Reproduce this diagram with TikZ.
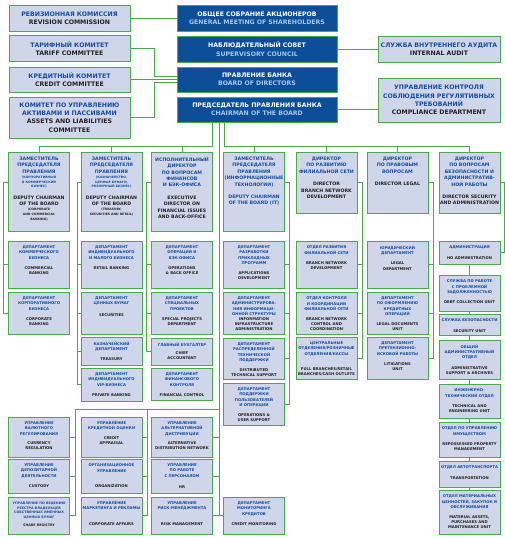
\documentclass[tikz,border=0pt]{standalone}
\usepackage{fontspec}
\setmainfont{DejaVu Sans}
\usepackage{tikz}
\usetikzlibrary{positioning}
\definecolor{lblue}{RGB}{207,214,234}
\definecolor{dblue}{RGB}{12,78,152}
\definecolor{lgreen}{RGB}{72,170,72}
\definecolor{rublue}{RGB}{22,78,158}
\definecolor{enblue}{RGB}{168,198,235}
\definecolor{entext}{RGB}{35,35,35}

\newcommand\ru[1]{{\color{rublue}#1\par}}
\newcommand\lb[1]{{\color{enblue}#1}}
\newcommand\sm[1]{{\fontsize{3.1}{4.9}\selectfont#1\par}}
\newcommand\cell[4][5pt]{\parbox[c][#2][t]{59pt}{\centering\hyphenpenalty=10000\vspace*{5pt}\ru{#3}\vspace{#1}#4}}

\begin{document}
\begin{tikzpicture}[x=1pt, y=-1pt,
  lbox/.style={draw=lgreen, fill=lblue, line width=0.9pt, inner sep=0pt, outer sep=0pt, text=entext},
  dbox/.style={lbox, fill=dblue, text=white},
  topf/.style={align=center, font=\fontsize{6.2}{8.4}\selectfont\bfseries},
  head/.style={lbox, anchor=north, minimum width=61pt, font=\fontsize{4.7}{6.4}\selectfont\bfseries},
  dept/.style={lbox, anchor=north, minimum width=61pt, font=\fontsize{3.8}{5.2}\selectfont\bfseries},
  link/.style={draw=lgreen, line width=0.9pt}
]
\fill[white] (0,0) rectangle (505,539);
\useasboundingbox (0,0) rectangle (505,539);

% committees and governing bodies
\node[lbox, topf, text width=121pt, minimum height=26pt] (rev) at (69.5,18) {\ru{РЕВИЗИОННАЯ КОМИССИЯ}REVISION COMMISSION};
\node[lbox, topf, text width=121pt, minimum height=26pt] (tariff) at (69.5,48.5) {\ru{ТАРИФНЫЙ КОМИТЕТ}TARIFF COMMITTEE};
\node[lbox, topf, text width=121pt, minimum height=25pt] (credit) at (69.5,79.5) {\ru{КРЕДИТНЫЙ КОМИТЕТ}CREDIT COMMITTEE};
\node[lbox, topf, text width=121pt, minimum height=41pt] (alm) at (69.5,117.5) {\ru{КОМИТЕТ ПО УПРАВЛЕНИЮ\\АКТИВАМИ И ПАССИВАМИ}ASSETS AND LIABILITIES\\COMMITTEE};

\node[dbox, topf, text width=160pt, minimum height=26pt] (gms) at (257,18) {ОБЩЕЕ СОБРАНИЕ АКЦИОНЕРОВ\\\lb{GENERAL MEETING OF SHAREHOLDERS}};
\node[dbox, topf, text width=160pt, minimum height=26pt] (sup) at (257,49) {НАБЛЮДАТЕЛЬНЫЙ СОВЕТ\\\lb{SUPERVISORY COUNCIL}};
\node[dbox, topf, text width=160pt, minimum height=25pt] (board) at (257,79.5) {ПРАВЛЕНИЕ БАНКА\\\lb{BOARD OF DIRECTORS}};
\node[dbox, topf, text width=160pt, minimum height=25pt] (chair) at (257,109.5) {ПРЕДСЕДАТЕЛЬ ПРАВЛЕНИЯ БАНКА\\\lb{CHAIRMAN OF THE BOARD}};

\node[lbox, topf, text width=122pt, minimum height=26pt] (audit) at (439,49) {\ru{СЛУЖБА ВНУТРЕННЕГО АУДИТА}INTERNAL AUDIT};
\node[lbox, topf, text width=122pt, minimum height=44pt] (compl) at (439,100) {\ru{УПРАВЛЕНИЕ КОНТРОЛЯ\\СОБЛЮДЕНИЯ РЕГУЛЯТИВНЫХ\\ТРЕБОВАНИЙ}COMPLIANCE DEPARTMENT};

% heads of the divisions
\node[head] (hcorp) at (39,152) {\cell{79pt}{ЗАМЕСТИТЕЛЬ\\ПРЕДСЕДАТЕЛЯ\\ПРАВЛЕНИЯ\par\sm{(КОРПОРАТИВНЫЙ\\И КОММЕРЧЕСКИЙ\\БИЗНЕС)}}{DEPUTY CHAIRMAN\\OF THE BOARD\par\sm{(CORPORATE\\AND COMMERCIAL\\BANKING)}}};
\node[head] (hretail) at (111.5,152) {\cell{79pt}{ЗАМЕСТИТЕЛЬ\\ПРЕДСЕДАТЕЛЯ\\ПРАВЛЕНИЯ\par\sm{(КАЗНАЧЕЙСТВО,\\ЦЕННЫЕ БУМАГИ,\\РОЗНИЧНЫЙ БИЗНЕС)}}{DEPUTY CHAIRMAN\\OF THE BOARD\par\sm{(TREASURY,\\SECURITIES AND RETAIL)}}};
\node[head] (hfin) at (182,152) {\cell[6pt]{79pt}{ИСПОЛНИТЕЛЬНЫЙ\\ДИРЕКТОР\\ПО ВОПРОСАМ\\ФИНАНСОВ\\И БЭК-ОФИСА}{EXECUTIVE\\DIRECTOR ON\\FINANCIAL ISSUES\\AND BACK-OFFICE}};
\node[head] (hit) at (254,152) {\cell[6pt]{79pt}{ЗАМЕСТИТЕЛЬ\\ПРЕДСЕДАТЕЛЯ\\ПРАВЛЕНИЯ\\(ИНФОРМАЦИОННЫЕ\\ТЕХНОЛОГИИ)}{\ru{DEPUTY CHAIRMAN\\OF THE BOARD (IT)}}};
\node[head] (hbranch) at (326.5,152) {\cell[6pt]{61pt}{ДИРЕКТОР\\ПО РАЗВИТИЮ\\ФИЛИАЛЬНОЙ СЕТИ}{DIRECTOR\\BRANCH NETWORK\\DEVELOPMENT}};
\node[head] (hlegal) at (397.5,152) {\cell[6pt]{61pt}{ДИРЕКТОР\\ПО ПРАВОВЫМ\\ВОПРОСАМ}{DIRECTOR LEGAL}};
\node[head] (hsec) at (469.5,152) {\cell[6pt]{61pt}{ДИРЕКТОР\\ПО ВОПРОСАМ\\БЕЗОПАСНОСТИ И\\АДМИНИСТРАТИВ-\\НОЙ РАБОТЫ}{DIRECTOR SECURITY\\AND ADMINISTRATION}};

% corporate and commercial banking
\node[dept] (dcomm) at (39,241) {\cell{47pt}{ДЕПАРТАМЕНТ\\КОММЕРЧЕСКОГО\\БИЗНЕСА}{COMMERCIAL\\BANKING}};
\node[dept, below=4pt of dcomm] (dcorpb) {\cell{42pt}{ДЕПАРТАМЕНТ\\КОРПОРАТИВНОГО\\БИЗНЕСА}{CORPORATE\\BANKING}};

% treasury, securities, retail
\node[dept] (dretail) at (111.5,241) {\cell{47pt}{ДЕПАРТАМЕНТ\\ИНДИВИДУАЛЬНОГО\\И МАЛОГО БИЗНЕСА}{RETAIL BANKING}};
\node[dept, below=4pt of dretail] (dsecur) {\cell[6pt]{42pt}{ДЕПАРТАМЕНТ\\ЦЕННЫХ БУМАГ}{SECURITIES}};
\node[dept, below=3pt of dsecur] (dtreas) {\cell{28pt}{КАЗНАЧЕЙСКИЙ\\ДЕПАРТАМЕНТ}{TREASURY}};
\node[dept, below=3pt of dtreas] (dvip) {\cell{33pt}{ДЕПАРТАМЕНТ\\ИНДИВИДУАЛЬНОГО\\VIP-БИЗНЕСА}{PRIVATE BANKING}};

% finance and back-office
\node[dept] (dops) at (182,241) {\cell{47pt}{ДЕПАРТАМЕНТ\\ОПЕРАЦИЙ И\\БЭК-ОФИСА}{OPERATIONS\\\& BACK OFFICE}};
\node[dept, below=4pt of dops] (dspec) {\cell{42pt}{ДЕПАРТАМЕНТ\\СПЕЦИАЛЬНЫХ\\ПРОЕКТОВ}{SPECIAL PROJECTS\\DEPARTMENT}};
\node[dept, below=4pt of dspec] (dacc) {\cell[3pt]{27pt}{ГЛАВНЫЙ БУХГАЛТЕР}{CHIEF\\ACCOUNTANT}};
\node[dept, below=3pt of dacc] (dfinc) {\cell{32pt}{ДЕПАРТАМЕНТ\\ФИНАНСОВОГО\\КОНТРОЛЯ}{FINANCIAL CONTROL}};

% information technologies
\node[dept] (dapp) at (254,241) {\cell{47pt}{ДЕПАРТАМЕНТ\\РАЗРАБОТКИ\\ПРИКЛАДНЫХ\\ПРОГРАММ}{APPLICATIONS\\DEVELOPMENT}};
\node[dept, below=4pt of dapp] (dinfra) {\cell[0pt]{42pt}{ДЕПАРТАМЕНТ\\АДМИНИСТРИРОВА-\\НИЯ ИНФОРМАЦИ-\\ОННОЙ СТРУКТУРЫ}{INFORMATION\\INFRASTRUCTURE\\ADMINISTRATION}};
\node[dept, below=4pt of dinfra] (ddist) {\cell{41pt}{ДЕПАРТАМЕНТ\\РАСПРЕДЕЛЕННОЙ\\ТЕХНИЧЕСКОЙ\\ПОДДЕРЖКИ}{DISTRIBUTED\\TECHNICAL SUPPORT}};
\node[dept, below=4pt of ddist] (duser) {\cell{42pt}{ДЕПАРТАМЕНТ\\ПОДДЕРЖКИ\\ПОЛЬЗОВАТЕЛЕЙ\\И ОПЕРАЦИЙ}{OPERATIONS \&\\USER SUPPORT}};

% branch network
\node[dept] (dbnd) at (326.5,241) {\cell{47pt}{ОТДЕЛ РАЗВИТИЯ\\ФИЛИАЛЬНОЙ СЕТИ}{BRANCH NETWORK\\DEVELOPMENT}};
\node[dept, below=4pt of dbnd] (dbnc) {\cell{42pt}{ОТДЕЛ КОНТРОЛЯ\\И КООРДИНАЦИИ\\ФИЛИАЛЬНОЙ СЕТИ}{BRANCH NETWORK\\CONTROL AND\\COORDINATION}};
\node[dept, below=3pt of dbnc] (dfull) {\cell[10pt]{42pt}{ЦЕНТРАЛЬНЫЕ\\ОТДЕЛЕНИЯ/РОЗНИЧНЫЕ\\ОТДЕЛЕНИЯ/КАССЫ}{FULL BRANCHES/RETAIL\\BRANCHES/CASH OUTLETS}};

% legal
\node[dept] (dlegal) at (397.5,241) {\cell{47pt}{ЮРИДИЧЕСКИЙ\\ДЕПАРТАМЕНТ}{LEGAL\\DEPARTMENT}};
\node[dept, below=4pt of dlegal] (ddocs) {\cell{42pt}{ДЕПАРТАМЕНТ\\ПО ОФОРМЛЕНИЮ\\КРЕДИТНЫХ\\ОПЕРАЦИЙ}{LEGAL DOCUMENTS\\UNIT}};
\node[dept, below=3pt of ddocs] (dlit) {\cell{42pt}{ДЕПАРТАМЕНТ\\ПРЕТЕНЗИОННО-\\ИСКОВОЙ РАБОТЫ}{LITIGATIONS\\UNIT}};

% security and administration
\node[dept] (dadm) at (469.5,241) {\cell{23pt}{АДМИНИСТРАЦИЯ}{HO ADMINISTRATION}};
\node[dept, below=11pt of dadm] (ddebt) {\cell{36pt}{СЛУЖБА ПО РАБОТЕ\\С ПРОБЛЕМНОЙ\\ЗАДОЛЖЕННОСТЬЮ}{DEBT COLLECTION UNIT}};
\node[dept, below=3pt of ddebt] (dsecu) {\cell{21pt}{СЛУЖБА БЕЗОПАСНОСТИ}{SECURITY UNIT}};
\node[dept, below=5pt of dsecu] (dgen) {\cell{39pt}{ОБЩИЙ\\АДМИНИСТРАТИВНЫЙ\\ОТДЕЛ}{ADMINISTRATIVE\\SUPPORT \& ARCHIVES}};
\node[dept, below=5pt of dgen] (deng) {\cell{34pt}{ИНЖЕНЕРНО-\\ТЕХНИЧЕСКИЙ ОТДЕЛ}{TECHNICAL AND\\ENGINEERING UNIT}};
\node[dept, below=4pt of deng] (dprop) {\cell{35pt}{ОТДЕЛ ПО УПРАВЛЕНИЮ\\ИМУЩЕСТВОМ}{REPOSSESSED PROPERTY\\MANAGEMENT}};
\node[dept, below=4pt of dprop] (dtrans) {\cell{26pt}{ОТДЕЛ АВТОТРАНСПОРТА}{TRANSPORTATION}};
\node[dept, below=3pt of dtrans] (dmat) {\cell{44pt}{ОТДЕЛ МАТЕРИАЛЬНЫХ\\ЦЕННОСТЕЙ, ЗАКУПОК И\\ОБСЛУЖИВАНИЯ}{MATERIAL ASSETS,\\PURCHASES AND\\MAINTENANCE UNIT}};

% units reporting to the chairman
\node[dept] (ucur) at (39,417) {\cell[4pt]{40pt}{УПРАВЛЕНИЕ\\ВАЛЮТНОГО\\РЕГУЛИРОВАНИЯ}{CURRENCY\\REGULATION}};
\node[dept, below=2pt of ucur] (ucust) {\cell{34pt}{УПРАВЛЕНИЕ\\ДЕПОЗИТАРНОЙ\\ДЕЯТЕЛЬНОСТИ}{CUSTODY}};
\node[dept, below=4pt of ucust, font=\fontsize{3.3}{4.7}\selectfont\bfseries] (ureg) {\cell[3pt]{37pt}{УПРАВЛЕНИЕ ПО ВЕДЕНИЮ\\РЕЕСТРА ВЛАДЕЛЬЦЕВ\\СОБСТВЕННЫХ ИМЕННЫХ\\ЦЕННЫХ БУМАГ}{SHARE REGISTRY}};
\node[dept] (uappr) at (111.5,417) {\cell[4pt]{40pt}{УПРАВЛЕНИЕ\\КРЕДИТНОЙ ОЦЕНКИ}{CREDIT\\APPRAISAL}};
\node[dept, below=2pt of uappr] (uorg) {\cell[10pt]{34pt}{ОРГАНИЗАЦИОННОЕ\\УПРАВЛЕНИЕ}{ORGANIZATION}};
\node[dept, below=4pt of uorg] (umkt) {\cell[10pt]{37pt}{УПРАВЛЕНИЕ\\МАРКЕТИНГА И РЕКЛАМЫ}{CORPORATE AFFAIRS}};
\node[dept] (ualt) at (182,417) {\cell[4pt]{40pt}{УПРАВЛЕНИЕ\\АЛЬТЕРНАТИВНОЙ\\ДИСТРИБУЦИИ}{ALTERNATIVE\\DISTRIBUTION NETWORK}};
\node[dept, below=2pt of ualt] (uhr) {\cell[6pt]{34pt}{УПРАВЛЕНИЕ\\ПО РАБОТЕ\\С ПЕРСОНАЛОМ}{HR}};
\node[dept, below=4pt of uhr] (urisk) {\cell[10pt]{37pt}{УПРАВЛЕНИЕ\\РИСК-МЕНЕДЖМЕНТА}{RISK MANAGEMENT}};
\node[dept] (dmon) at (254,497) {\cell{37pt}{ДЕПАРТАМЕНТ\\МОНИТОРИНГА\\КРЕДИТОВ}{CREDIT MONITORING}};

% top connectors
\draw[link] (rev) -- (gms);
\draw[link] (sup) -- (audit);
\draw[link] (credit) -- (board);
\draw[link] (tariff.east) -- ++(24,0) |- ([yshift=3pt]board.west);
\draw[link] (alm.east) -- ++(24,0) |- ([yshift=-3pt]board.west);
\draw[link] (chair.east) -- (chair.east -| compl.west);

% chairman to divisions
\coordinate (tl) at ([xshift=-45pt]chair.south);
\coordinate (tm) at ([xshift=-38pt]chair.south);
\coordinate (tr) at ([xshift=-33pt]chair.south);
\draw[link] (tl) -- ++(0,24) -| (hcorp.north);
\draw[link] (tr) -- ++(0,24) -| (hsec.north);
\foreach \h in {hretail,hfin,hit,hbranch,hlegal}
  \draw[link] (\h.north) -- ++(0,-6);
\draw[link] (tm) |- (dmon.west);

% divisions to departments
\draw[link] ([yshift=9pt]hcorp.west) -- ++(-5,0) |- (dcorpb.west);
\draw[link] (dcomm.west) -- ++(-5,0);
\draw[link] ([yshift=9pt]hretail.west) -- ++(-4,0) |- (dvip.west);
\foreach \d in {dretail,dsecur,dtreas}
  \draw[link] (\d.west) -- ++(-4,0);
\draw[link] ([yshift=9pt]hfin.west) -- ++(-5,0) |- (dacc.west);
\foreach \d in {dops,dspec}
  \draw[link] (\d.west) -- ++(-5,0);
\draw[link] ([yshift=9pt]hit.east) -- ++(5,0) |- (duser.east);
\foreach \d in {dapp,dinfra,ddist}
  \draw[link] (\d.east) -- ++(5,0);
\draw[link] (hbranch.east) -- ++(5,0) |- (dfull.east);
\foreach \d in {dbnd,dbnc}
  \draw[link] (\d.east) -- ++(5,0);
\draw[link] (hlegal.east) -- ++(5,0) |- (dlit.east);
\foreach \d in {dlegal,ddocs}
  \draw[link] (\d.east) -- ++(5,0);
\draw[link] (hsec.east) -- ++(4,0) |- (dadm.east);
\foreach \a/\b in {dadm/ddebt,ddebt/dsecu,dsecu/dgen,dgen/deng,deng/dprop,dprop/dtrans,dtrans/dmat}
  \draw[link] (\a) -- (\b);

% units under the chairman
\coordinate (bus) at (0,409);
\draw[link] (ureg.east) -- ++(6,0) |- (tm |- bus);
\draw[link] (umkt.east) -- ++(5,0) |- (tm |- bus);
\foreach \u in {ucur,ucust}
  \draw[link] (\u.east) -- ++(6,0);
\foreach \u in {uappr,uorg}
  \draw[link] (\u.east) -- ++(5,0);
\foreach \u in {ualt,uhr,urisk}
  \draw[link] (\u.east) -- (tm |- \u.east);
\end{tikzpicture}
\end{document}
